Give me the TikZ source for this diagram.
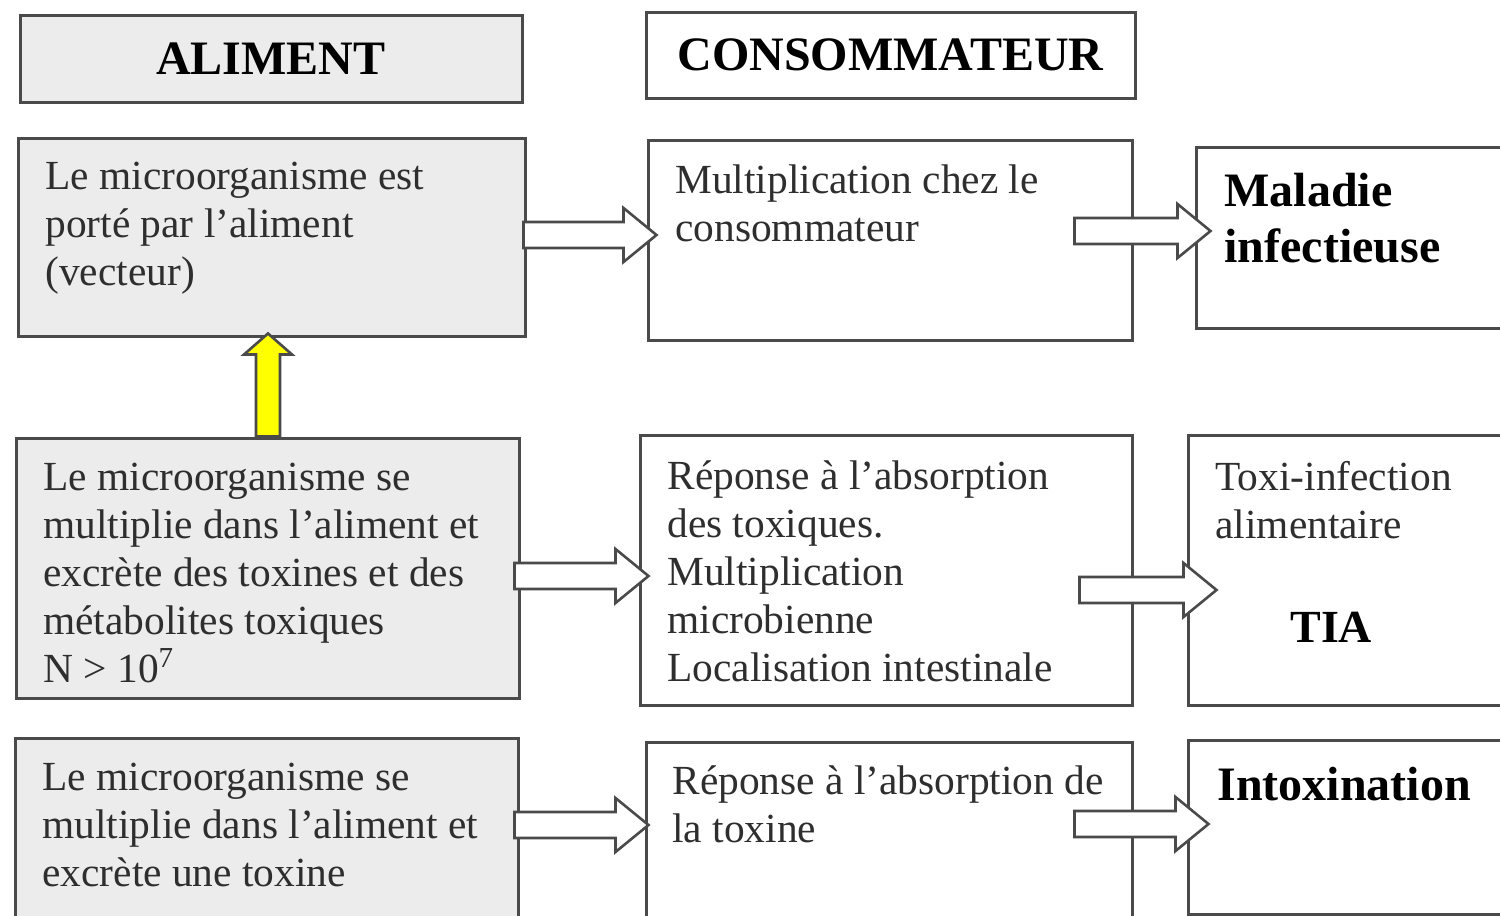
\documentclass[tikz,border=0pt]{standalone}
\usepackage{fontspec}
\setmainfont{Liberation Serif}
\usetikzlibrary{calc}
\definecolor{bord}{HTML}{4A4A4A}
\definecolor{grisfond}{HTML}{ECECEC}
\definecolor{texte}{HTML}{2E2E2E}
\definecolor{jaune}{HTML}{FFFF00}
\begin{document}
\begin{tikzpicture}[x=0.5pt,y=-0.5pt,
  boxg/.style={draw=bord, line width=1.5pt, fill=grisfond, inner sep=0pt},
  boxw/.style={draw=bord, line width=1.5pt, fill=white, inner sep=0pt},
  head/.style={text=black, font=\bfseries\fontsize{24}{28}\selectfont},
  txt/.style={anchor=north west, inner sep=0pt, align=left, text=texte,
    font=\fontsize{20.7}{24}\selectfont, execute at begin node={\rule{0pt}{0.8em}}},
  btxt/.style={anchor=north west, inner sep=0pt, align=left, text=black,
    font=\bfseries\fontsize{24}{28}\selectfont, execute at begin node={\rule{0pt}{0.8em}}},
  barrow/.style={draw=bord, line width=1.3pt, fill=white, line join=miter,
    to path={let \p1=(\tikztostart), \p2=(\tikztotarget) in
      (\x1,\y1+6.5pt) -- (\x2-16.5pt,\y1+6.5pt) -- (\x2-16.5pt,\y1+13.5pt) -- (\x2,\y1)
      -- (\x2-16.5pt,\y1-13.5pt) -- (\x2-16.5pt,\y1-6.5pt) -- (\x1,\y1-6.5pt) -- cycle}},
  yarrow/.style={draw=bord, line width=1.3pt, fill=jaune, line join=miter,
    to path={let \p1=(\tikztostart), \p2=(\tikztotarget) in
      (\x1-6pt,\y1) -- (\x1-6pt,\y2-10.5pt) -- (\x1-12pt,\y2-10.5pt) -- (\x1,\y2)
      -- (\x1+12pt,\y2-10.5pt) -- (\x1+6pt,\y2-10.5pt) -- (\x1+6pt,\y1) -- cycle}}
]
\useasboundingbox (0,0) rectangle (1500,916);
\fill[white] (0,0) rectangle (1500,916);

% headers
\node[boxg, head, minimum width=251pt, minimum height=43.5pt] (hA) at (271,58.5) {ALIMENT};
\node[boxw, head, minimum width=244.5pt, minimum height=43pt] (hC) at (890.5,55) {CONSOMMATEUR};

% row 1
\node[boxg, minimum width=253.5pt, minimum height=99pt] (a1) at (271.5,237) {};
\node[boxw, minimum width=242pt, minimum height=100pt] (c1) at (890,240) {};
\node[boxw, minimum width=157pt, minimum height=90.5pt] (r1) at (1353,237.5) {};
% row 2
\node[boxg, minimum width=251.5pt, minimum height=130pt] (a2) at (267.5,568) {};
\node[boxw, minimum width=246pt, minimum height=135pt] (c2) at (886,570) {};
\node[boxw, minimum width=161pt, minimum height=135pt] (r2) at (1349,570) {};
% row 3
\node[boxg, minimum width=251.5pt, minimum height=101pt] (a3) at (266.5,839) {};
\node[boxw, minimum width=243pt, minimum height=99pt] (c3) at (889,841) {};
\node[boxw, minimum width=161pt, minimum height=87pt] (r3) at (1349,827) {};

% texts
\node[txt] (ta1) at (45,161.5) {Le microorganisme est\\porté par l’aliment\\(vecteur)};
\node[txt] (tc1) at (675,164.5) {Multiplication chez le\\consommateur};
\node[btxt] (tr1) at (1224,172.6) {Maladie\\infectieuse};

\node[txt] (ta2) at (43,462.5) {Le microorganisme se\\multiplie dans l’aliment et\\excrète des toxines et des\\métabolites toxiques\\N > 10\textsuperscript{7}};
\node[txt] (tc2) at (667,460.5) {Réponse à l’absorption\\des toxiques.\\Multiplication\\microbienne\\Localisation intestinale};
\node[txt] (tr2) at (1215,460.5) {Toxi-infection\\alimentaire};
\node[anchor=base west, inner sep=0pt, text=black, font=\bfseries\fontsize{23}{27}\selectfont] (tia) at (1290,642) {TIA};

\node[txt] (ta3) at (42,762.5) {Le microorganisme se\\multiplie dans l’aliment et\\excrète une toxine};
\node[txt] (tc3) at (672,765) {Réponse à l’absorption de\\la toxine};
\node[btxt] (tr3) at (1217,761.6) {Intoxination};

% block arrows
\draw[barrow] ($(a1.east)+(-3,-2)$) to ($(c1.west)+(10,0)$);
\draw[barrow] ($(c1.east)+(-59,-9)$) to ($(r1.west)+(16,0)$);
\draw[barrow] ($(a2.east)+(-6,8)$) to ($(c2.west)+(10,0)$);
\draw[barrow] ($(c2.east)+(-54,20)$) to ($(r2.west)+(30,0)$);
\draw[barrow] ($(a3.east)+(-5,-14)$) to ($(c3.west)+(4,0)$);
\draw[barrow] ($(c3.east)+(-59,-17)$) to ($(r3.west)+(22,0)$);

% yellow arrow
\draw[yarrow] ($(a2.north)+(0.5,0)$) to ($(a1.south)+(0,-4)$);
\end{tikzpicture}
\end{document}
